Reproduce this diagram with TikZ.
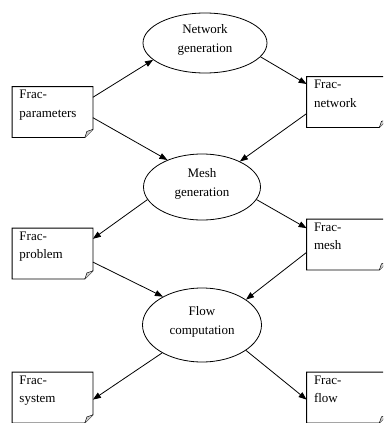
\documentclass[tikz,border=0pt]{standalone}
\usepackage{fontspec}
\setmainfont{Liberation Serif}
\usetikzlibrary{shapes.geometric,arrows.meta}

\begin{document}
\begin{tikzpicture}[x=1pt, y=-1pt, line width=0.8pt,
  >={Triangle[length=8pt,width=6pt]},
  font=\fontsize{13}{18.5}\selectfont,
  task/.style={draw, ellipse, inner sep=0pt, align=center, text depth=9pt},
  doc/.style={inner sep=0pt, minimum width=80pt, minimum height=50pt},
  doctext/.style={anchor=north west, align=left, inner xsep=7pt, inner ysep=3pt}]
  \clip (0,0) rectangle (383,423);

  \node[task, minimum width=124pt, minimum height=60pt] (ng) at (205,43) {Network\\generation};
  \node[task, minimum width=117pt, minimum height=66pt] (mg) at (202,187) {Mesh\\generation};
  \node[task, minimum width=119pt, minimum height=74pt] (fc) at (202,325) {Flow\\computation};

  \node[doc] (fpar) at (52.5,112) {};
  \node[doc] (fnet) at (347,102) {};
  \node[doc] (fprob) at (52.5,253.5) {};
  \node[doc] (fmesh) at (347,244.5) {};
  \node[doc] (fsys) at (52.5,397.5) {};
  \node[doc] (fflow) at (347,397.5) {};

  \node[doctext] (fpar-t) at (fpar.north west) {Frac-\\parameters};
  \node[doctext] (fnet-t) at (fnet.north west) {Frac-\\network};
  \node[doctext] (fprob-t) at (fprob.north west) {Frac-\\problem};
  \node[doctext] (fmesh-t) at (fmesh.north west) {Frac-\\mesh};
  \node[doctext] (fsys-t) at (fsys.north west) {Frac-\\system};
  \node[doctext] (fflow-t) at (fflow.north west) {Frac-\\flow};

  \foreach \n in {fpar,fnet,fprob,fmesh,fsys,fflow}{
    \draw (\n.north west) -- (\n.north east) -- ([yshift=8pt]\n.south east)
      -- ([xshift=-8pt]\n.south east) -- (\n.south west) -- cycle;
    \draw[fill=gray!40, line width=0.5pt] ([yshift=8pt]\n.south east)
      -- ([shift={(-6pt,6pt)}]\n.south east) -- ([xshift=-8pt]\n.south east);
  }

  \draw[->] (fpar.20) -- (ng.198);
  \draw[->] (ng.-14) -- (fnet.156);
  \draw[->] (fpar.-8) -- (mg.142);
  \draw[->] (fnet.196) -- (mg.34);
  \draw[->] (mg.193) -- (fprob.20);
  \draw[->] (mg.-13) -- (fmesh.158);
  \draw[->] (fprob.-12) -- (fc.144);
  \draw[->] (fmesh.191) -- (fc.30);
  \draw[->] (fc.215) -- (fsys.-3);
  \draw[->] (fc.-30) -- (fflow.183);
\end{tikzpicture}
\end{document}
